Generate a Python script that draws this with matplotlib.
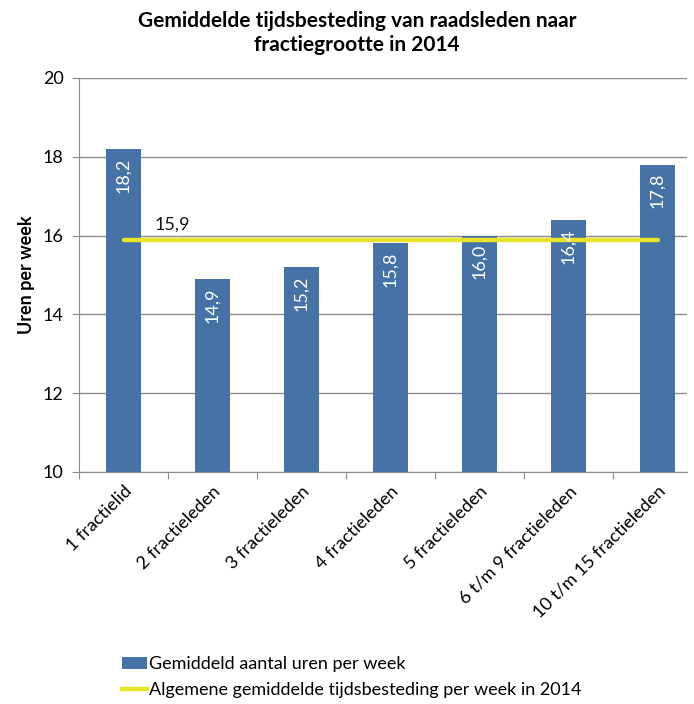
import matplotlib
matplotlib.use('Agg')
import matplotlib.pyplot as plt
from matplotlib.lines import Line2D
from matplotlib.patches import Patch

# Data
categories = ['1 fractielid', '2 fractieleden', '3 fractieleden', '4 fractieleden',
              '5 fractieleden', '6 t/m 9 fractieleden', '10 t/m 15 fractieleden']
hours = [18.2, 14.9, 15.2, 15.8, 16.0, 16.4, 17.8]
overall_avg = 15.9
y_ticks = [10, 12, 14, 16, 18, 20]

bar_color = '#4672A6'
line_color = '#E8E42C'
grid_color = '#8C8C8C'
fs = 13

plt.rcParams['font.family'] = ['Lato', 'DejaVu Sans']

fig = plt.figure(figsize=(6.94, 7.04), dpi=100)
ax = fig.add_axes([79 / 694, 1 - 472 / 704, (687 - 79) / 694, (472 - 78) / 704])

x = list(range(len(categories)))
bars = ax.bar(x, hours, width=0.4, color=bar_color, zorder=3)

# general average line from first to last category
ax.plot([x[0], x[-1]], [overall_avg, overall_avg], color=line_color, lw=3.2,
        solid_capstyle='round', zorder=4)
ax.annotate(f'{overall_avg:.1f}'.replace('.', ','), xy=(x[0], overall_avg),
            xytext=(35, 11), textcoords='offset points', ha='center', va='center',
            fontsize=fs, color='#111111')

# value labels inside the bars
for b, v in zip(bars, hours):
    ax.annotate(f'{v:.1f}'.replace('.', ','), xy=(b.get_x() + b.get_width() / 2, v),
                xytext=(0, -6), textcoords='offset points', rotation=90,
                ha='center', va='top', color='white', fontsize=fs, zorder=5)

ax.set_ylim(10, 20)
ax.set_yticks(y_ticks)
ax.set_xlim(-0.5, 6.33)
ax.set_xticks([i - 0.5 for i in range(len(categories))])
ax.set_xticks(x, minor=True)
ax.set_xticklabels([])
ax.set_xticklabels(categories, minor=True, rotation=45, ha='right',
                   rotation_mode='anchor', fontsize=fs)
ax.tick_params(axis='x', which='minor', length=0, pad=8)
ax.tick_params(axis='x', which='major', length=5, color=grid_color)
ax.tick_params(axis='y', length=5, color=grid_color, labelsize=fs, pad=6)

ax.grid(axis='y', color=grid_color, lw=1, zorder=0)
for s in ['top', 'right']:
    ax.spines[s].set_visible(False)
for s in ['left', 'bottom']:
    ax.spines[s].set_color(grid_color)

ax.set_ylabel('Uren per week', fontsize=fs, fontweight='bold', labelpad=6)

fig.text(357 / 694, 1 - 33 / 704, 'Gemiddelde tijdsbesteding van raadsleden naar\nfractiegrootte in 2014',
         ha='center', va='center', fontsize=15, fontweight='bold', linespacing=1.3)

handles = [Patch(facecolor=bar_color, label='Gemiddeld aantal uren per week'),
           Line2D([0], [0], color=line_color, lw=3.2,
                  label='Algemene gemiddelde tijdsbesteding per week in 2014')]
fig.legend(handles=handles, loc='upper left', bbox_to_anchor=(106 / 694, 1 - 640 / 704),
           frameon=False, fontsize=fs, handlelength=1.35, handletextpad=0.12,
           labelspacing=0.55)

fig.savefig('out.png', dpi=100)
